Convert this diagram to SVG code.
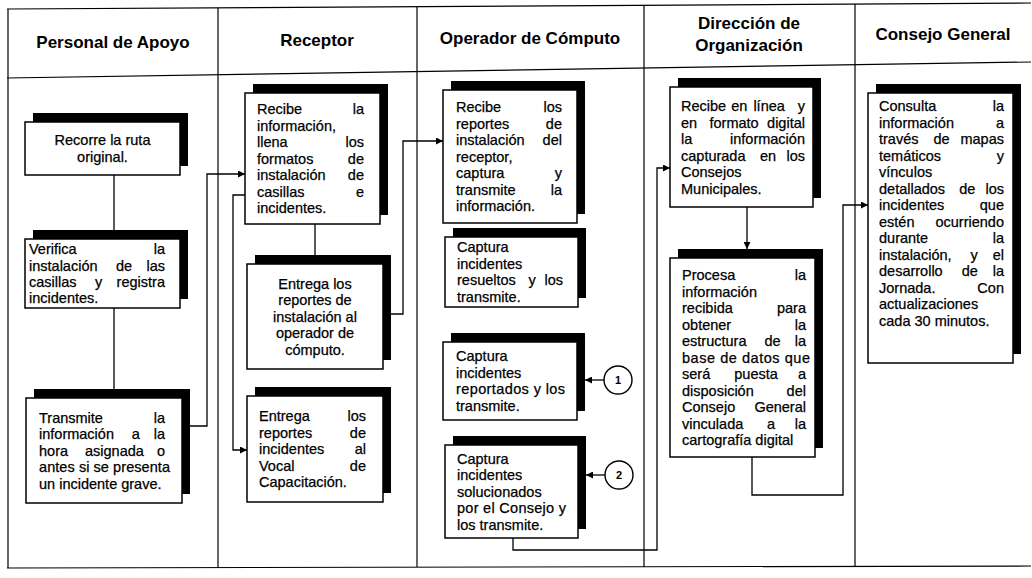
<svg xmlns="http://www.w3.org/2000/svg" width="1032" height="578" viewBox="0 0 1032 578">
<style>
.t{font-family:"Liberation Sans",Arial,sans-serif;font-size:14.5px;fill:#000;stroke:#000;stroke-width:0.25}
.h{font-family:"Liberation Sans",Arial,sans-serif;font-size:17px;font-weight:bold;fill:#000;text-anchor:middle}
.m{text-anchor:middle}
.e{text-anchor:end}
.box{fill:#fff;stroke:#000;stroke-width:1.5}
.sh{fill:#000}
.ln{fill:none;stroke:#000;stroke-width:1.3}
.grid{fill:none;stroke:#000;stroke-width:1.2}
.cir{fill:#fff;stroke:#000;stroke-width:1.4}
.num{font-family:"Liberation Sans",Arial,sans-serif;font-size:11px;font-weight:bold;text-anchor:middle}
</style>
<defs>
<marker id="ah" viewBox="0 0 10 10" refX="10" refY="5" markerWidth="8" markerHeight="7" markerUnits="userSpaceOnUse" orient="auto"><path d="M0,0 L10,5 L0,10 z" fill="#000"/></marker>
</defs>
<rect width="1032" height="578" fill="#fff"/>
<g id="table" class="grid">
<path d="M7,9 L1031,3"/>
<path d="M7,78 L1031,62"/>
<path d="M7,568 L1031,566"/>
<path d="M8,9 V568"/>
<path d="M218,8 V568"/>
<path d="M417,7 V567"/>
<path d="M644,5 V567"/>
<path d="M855,4 V567"/>
</g>
<g id="headers">
<text class="h" x="113" y="48">Personal de Apoyo</text>
<text class="h" x="317" y="46">Receptor</text>
<text class="h" x="530" y="44">Operador de Cómputo</text>
<text class="h" x="749" y="29">Dirección de</text>
<text class="h" x="749" y="51">Organización</text>
<text class="h" x="943" y="40">Consejo General</text>
</g>
<g id="connectors" class="ln">
<path d="M114,175 V230"/>
<path d="M114,308 V389"/>
<path d="M190,426 H207 V174 H245" marker-end="url(#ah)"/>
<path d="M245,195 H233 V450 H247" marker-end="url(#ah)"/>
<path d="M315,224 V255"/>
<path d="M391,314 H403 V141 H443" marker-end="url(#ah)"/>
<path d="M604,380 H585" marker-end="url(#ah)"/>
<path d="M605,475 H586" marker-end="url(#ah)"/>
<path d="M513,538 V550 H657 V168 H670" marker-end="url(#ah)"/>
<path d="M747,207 V249" marker-end="url(#ah)"/>
<path d="M752,457 V495 H843 V205 H868" marker-end="url(#ah)"/>
</g>
<g id="circle1"><circle class="cir" cx="618" cy="380" r="14"/><text class="num" x="618" y="384">1</text></g>
<g id="circle2"><circle class="cir" cx="619" cy="475" r="14"/><text class="num" x="619" y="479">2</text></g>
<g id="nodeA">
<rect class="sh" x="33" y="113" width="155" height="53"/>
<rect class="box" x="25" y="122" width="155" height="53"/>
<text class="t m"><tspan x="102.5" y="145">Recorre la ruta</tspan><tspan x="102.5" y="162">original.</tspan></text>
</g>
<g id="nodeB">
<rect class="sh" x="33" y="230" width="155" height="69"/>
<rect class="box" x="25" y="239" width="155" height="69"/>
<text class="t"><tspan x="29" y="254">Verifica</tspan><tspan x="169" y="254" text-anchor="end">la</tspan>
<tspan x="29" y="270.5">instalación</tspan><tspan x="116" y="270.5">de</tspan><tspan x="169" y="270.5" text-anchor="end">las</tspan>
<tspan x="29" y="287">casillas</tspan><tspan x="95" y="287">y</tspan><tspan x="169" y="287" text-anchor="end">registra</tspan>
<tspan x="29" y="303">incidentes.</tspan></text>
</g>
<g id="nodeC">
<rect class="sh" x="34" y="389" width="156" height="105"/>
<rect class="box" x="26" y="398" width="156" height="105"/>
<text class="t"><tspan x="39" y="422.5">Transmite</tspan><tspan x="169" y="422.5" text-anchor="end">la</tspan>
<tspan x="39" y="439">información</tspan><tspan x="131.7" y="439">a</tspan><tspan x="169" y="439" text-anchor="end">la</tspan>
<tspan x="39" y="455.5">hora</tspan><tspan x="85" y="455.5">asignada</tspan><tspan x="169" y="455.5" text-anchor="end">o</tspan>
<tspan x="39" y="488.5">un incidente grave.</tspan></text>
<text class="t" x="39" y="472" textLength="131" lengthAdjust="spacing">antes si se presenta</text>
</g>
<g id="nodeD">
<rect class="sh" x="253" y="84" width="135" height="131"/>
<rect class="box" x="245" y="93" width="135" height="131"/>
<text class="t"><tspan x="257" y="114">Recibe</tspan><tspan x="368" y="114" text-anchor="end">la</tspan>
<tspan x="257" y="130.5">información,</tspan>
<tspan x="257" y="147">llena</tspan><tspan x="368" y="147" text-anchor="end">los</tspan>
<tspan x="257" y="163.5">formatos</tspan><tspan x="368" y="163.5" text-anchor="end">de</tspan>
<tspan x="257" y="180">instalación</tspan><tspan x="368" y="180" text-anchor="end">de</tspan>
<tspan x="257" y="196.5">casillas</tspan><tspan x="368" y="196.5" text-anchor="end">e</tspan>
<tspan x="257" y="213">incidentes.</tspan></text>
</g>
<g id="nodeE">
<rect class="sh" x="255" y="255" width="136" height="105"/>
<rect class="box" x="247" y="264" width="136" height="105"/>
<text class="t m"><tspan x="315" y="288.5">Entrega los</tspan><tspan x="315" y="305">reportes de</tspan><tspan x="315" y="321.5">instalación al</tspan><tspan x="315" y="338">operador de</tspan><tspan x="315" y="354.5">cómputo.</tspan></text>
</g>
<g id="nodeF">
<rect class="sh" x="255" y="387" width="136" height="106"/>
<rect class="box" x="247" y="396" width="136" height="106"/>
<text class="t"><tspan x="259" y="421">Entrega</tspan><tspan x="370" y="421" text-anchor="end">los</tspan>
<tspan x="259" y="437.5">reportes</tspan><tspan x="370" y="437.5" text-anchor="end">de</tspan>
<tspan x="259" y="454">incidentes</tspan><tspan x="370" y="454" text-anchor="end">al</tspan>
<tspan x="259" y="470.5">Vocal</tspan><tspan x="370" y="470.5" text-anchor="end">de</tspan>
<tspan x="259" y="487">Capacitación.</tspan></text>
</g>
<g id="nodeG">
<rect class="sh" x="451" y="81" width="134" height="133"/>
<rect class="box" x="443" y="90" width="134" height="133"/>
<text class="t"><tspan x="456" y="112">Recibe</tspan><tspan x="566" y="112" text-anchor="end">los</tspan>
<tspan x="456" y="128.5">reportes</tspan><tspan x="566" y="128.5" text-anchor="end">de</tspan>
<tspan x="456" y="145">instalación</tspan><tspan x="566" y="145" text-anchor="end">del</tspan>
<tspan x="456" y="161.5">receptor,</tspan>
<tspan x="456" y="178">captura</tspan><tspan x="566" y="178" text-anchor="end">y</tspan>
<tspan x="456" y="194.5">transmite</tspan><tspan x="566" y="194.5" text-anchor="end">la</tspan>
<tspan x="456" y="211">información.</tspan></text>
</g>
<g id="nodeH">
<rect class="sh" x="453" y="228" width="133" height="70"/>
<rect class="box" x="445" y="237" width="133" height="70"/>
<text class="t"><tspan x="457" y="252">Captura</tspan>
<tspan x="457" y="268.5">incidentes</tspan>
<tspan x="457" y="285">resueltos</tspan><tspan x="528.5" y="285">y</tspan><tspan x="567" y="285" text-anchor="end">los</tspan>
<tspan x="457" y="301.5">transmite.</tspan></text>
</g>
<g id="nodeI">
<rect class="sh" x="451" y="333" width="134" height="78"/>
<rect class="box" x="443" y="342" width="134" height="78"/>
<text class="t"><tspan x="456" y="361">Captura</tspan>
<tspan x="456" y="377.5">incidentes</tspan>
<tspan x="456" y="410.5">transmite.</tspan></text>
<text class="t" x="456" y="394" textLength="109" lengthAdjust="spacing">reportados y los</text>
</g>
<g id="nodeJ">
<rect class="sh" x="453" y="436" width="133" height="93"/>
<rect class="box" x="445" y="445" width="133" height="93"/>
<text class="t"><tspan x="457" y="463.5">Captura</tspan>
<tspan x="457" y="480">incidentes</tspan>
<tspan x="457" y="496.5">solucionados</tspan>
<tspan x="457" y="529.5">los transmite.</tspan></text>
<text class="t" x="457" y="513" textLength="109" lengthAdjust="spacing">por el Consejo y</text>
</g>
<g id="nodeK">
<rect class="sh" x="678" y="78" width="143" height="120"/>
<rect class="box" x="670" y="87" width="143" height="120"/>
<text class="t"><tspan x="681" y="111">Recibe</tspan><tspan x="731.3" y="111">en</tspan><tspan x="753.4" y="111">línea</tspan><tspan x="809" y="111" text-anchor="end">y</tspan>
<tspan x="681" y="127.5">en</tspan><tspan x="709.5" y="127.5">formato</tspan><tspan x="809" y="127.5" text-anchor="end">digital</tspan>
<tspan x="681" y="144">la</tspan><tspan x="809" y="144" text-anchor="end">información</tspan>
<tspan x="681" y="160.5">capturada</tspan><tspan x="760" y="160.5">en</tspan><tspan x="809" y="160.5" text-anchor="end">los</tspan>
<tspan x="681" y="177">Consejos</tspan>
<tspan x="681" y="193.5">Municipales.</tspan></text>
</g>
<g id="nodeL">
<rect class="sh" x="678" y="249" width="145" height="199"/>
<rect class="box" x="670" y="258" width="145" height="199"/>
<text class="t"><tspan x="682" y="280">Procesa</tspan><tspan x="810" y="280" text-anchor="end">la</tspan>
<tspan x="682" y="296.5">información</tspan>
<tspan x="682" y="313">recibida</tspan><tspan x="810" y="313" text-anchor="end">para</tspan>
<tspan x="682" y="329.5">obtener</tspan><tspan x="810" y="329.5" text-anchor="end">la</tspan>
<tspan x="682" y="346">estructura</tspan><tspan x="764.5" y="346">de</tspan><tspan x="810" y="346" text-anchor="end">la</tspan>
<tspan x="682" y="379">será</tspan><tspan x="734.3" y="379">puesta</tspan><tspan x="810" y="379" text-anchor="end">a</tspan>
<tspan x="682" y="395.5">disposición</tspan><tspan x="810" y="395.5" text-anchor="end">del</tspan>
<tspan x="682" y="412">Consejo</tspan><tspan x="810" y="412" text-anchor="end">General</tspan>
<tspan x="682" y="428.5">vinculada</tspan><tspan x="766.9" y="428.5">a</tspan><tspan x="810" y="428.5" text-anchor="end">la</tspan>
<tspan x="682" y="445">cartografía digital</tspan></text>
<text class="t" x="682" y="362.5" textLength="128" lengthAdjust="spacing">base de datos que</text>
</g>
<g id="nodeM">
<rect class="sh" x="876" y="84" width="145" height="270"/>
<rect class="box" x="868" y="93" width="145" height="270"/>
<text class="t"><tspan x="879" y="111">Consulta</tspan><tspan x="1008" y="111" text-anchor="end">la</tspan>
<tspan x="879" y="127.5">información</tspan><tspan x="1008" y="127.5" text-anchor="end">a</tspan>
<tspan x="879" y="144">través</tspan><tspan x="933.5" y="144">de</tspan><tspan x="1008" y="144" text-anchor="end">mapas</tspan>
<tspan x="879" y="160.5">temáticos</tspan><tspan x="1008" y="160.5" text-anchor="end">y</tspan>
<tspan x="879" y="177">vínculos</tspan>
<tspan x="879" y="193.5">detallados</tspan><tspan x="959.3" y="193.5">de</tspan><tspan x="1008" y="193.5" text-anchor="end">los</tspan>
<tspan x="879" y="210">incidentes</tspan><tspan x="1008" y="210" text-anchor="end">que</tspan>
<tspan x="879" y="226.5">estén</tspan><tspan x="1008" y="226.5" text-anchor="end">ocurriendo</tspan>
<tspan x="879" y="243">durante</tspan><tspan x="1008" y="243" text-anchor="end">la</tspan>
<tspan x="879" y="259.5">instalación,</tspan><tspan x="970.5" y="259.5">y</tspan><tspan x="1008" y="259.5" text-anchor="end">el</tspan>
<tspan x="879" y="276">desarrollo</tspan><tspan x="961.7" y="276">de</tspan><tspan x="1008" y="276" text-anchor="end">la</tspan>
<tspan x="879" y="292.5">Jornada.</tspan><tspan x="1008" y="292.5" text-anchor="end">Con</tspan>
<tspan x="879" y="309">actualizaciones</tspan>
<tspan x="879" y="325.5">cada 30 minutos.</tspan></text>
</g>
</svg>
